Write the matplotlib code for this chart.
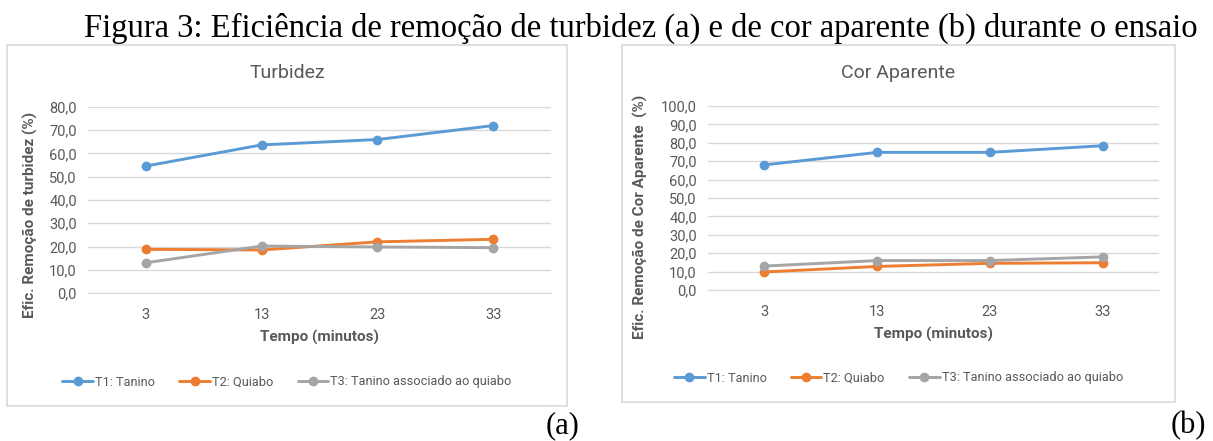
import matplotlib
matplotlib.use("Agg")
import matplotlib.pyplot as plt
from matplotlib.patches import Rectangle

W, H = 1213, 441

tempos = ["3", "13", "23", "33"]
series_names = ["T1: Tanino", "T2: Quiabo", "T3: Tanino associado ao quiabo"]

turb_t1 = [54.6, 63.7, 66.0, 72.0]
turb_t2 = [18.8, 18.5, 22.0, 23.1]
turb_t3 = [13.0, 20.2, 19.8, 19.5]

cor_t1 = [68.0, 74.8, 74.8, 78.4]
cor_t2 = [9.8, 12.8, 14.5, 14.8]
cor_t3 = [13.0, 16.0, 16.0, 18.0]

colors = ["#5B9BD5", "#ED7D31", "#A5A5A5"]
TXT = "#595959"
GRID = "#D9D9D9"
FONT = ["Liberation Sans Narrow", "Roboto", "DejaVu Sans"]

plt.rcParams["font.family"] = FONT

fig = plt.figure(figsize=(W / 100, H / 100), dpi=100)


def px_box(x0, y0, x1, y1):
    # pixel box (top-left origin) -> figure fraction [l, b, w, h]
    return [x0 / W, 1 - y1 / H, (x1 - x0) / W, (y1 - y0) / H]


def panel(frame, plot, ymax, data, title, ylabel, ylab_pos,
          title_y, xlab_y, leg_y):
    fx0, fy0, fx1, fy1 = frame
    fig.patches.append(Rectangle((fx0 / W, 1 - fy1 / H), (fx1 - fx0) / W,
                                 (fy1 - fy0) / H, transform=fig.transFigure,
                                 facecolor="none", edgecolor=GRID, lw=1.2,
                                 zorder=-5))
    ax = fig.add_axes(px_box(*plot))
    ax.set_facecolor("none")
    ax.set_zorder(2)
    x = list(range(len(tempos)))
    handles = []
    for vals, c, name in zip(data, colors, series_names):
        h, = ax.plot(x, vals, color=c, lw=2.1, marker="o", ms=6,
                     label=name, solid_capstyle="round")
        handles.append(h)
    ax.set_xlim(-0.5, len(tempos) - 0.5)
    ax.set_ylim(0, ymax)
    ticks = list(range(0, ymax + 1, 10))
    ax.set_yticks(ticks)
    ax.set_yticklabels([f"{t:.1f}".replace(".", ",") for t in ticks])
    ax.set_xticks(x)
    ax.set_xticklabels(tempos)
    ax.tick_params(length=0, colors=TXT, labelsize=10.5)
    ax.tick_params(axis="x", pad=11)
    ax.tick_params(axis="y", pad=8)
    ax.grid(axis="y", color=GRID, lw=1)
    ax.set_axisbelow(True)
    for s in ["top", "right", "left"]:
        ax.spines[s].set_visible(False)
    ax.spines["bottom"].set_color(GRID)
    ax.set_ylabel(ylabel, fontsize=11, fontweight="bold", color=TXT)
    ax.yaxis.set_label_coords(*ylab_pos)

    cx = (fx0 + fx1) / 2
    fig.text(cx / W, 1 - title_y / H, title,
             ha="center", va="center", fontsize=14, color=TXT)
    fig.text((plot[0] + plot[2]) / 2 / W, 1 - xlab_y / H, "Tempo (minutos)",
             ha="center", va="center", fontsize=11, fontweight="bold",
             color=TXT)
    leg = fig.legend(handles=handles, loc="center",
                     bbox_to_anchor=(cx / W, 1 - leg_y / H), ncol=3,
                     frameon=False, fontsize=9.2, handlelength=2.4,
                     handletextpad=0.15, columnspacing=1.9)
    for t in leg.get_texts():
        t.set_color(TXT)
    return ax


panel((7, 45, 567, 406), (88, 107, 551, 293), 80,
      [turb_t1, turb_t2, turb_t3], "Turbidez",
      "Efic. Remoção de turbidez (%)", (-0.108, 0.42), 73, 337, 382)
panel((622, 45, 1175, 402), (708, 106, 1159, 290), 100,
      [cor_t1, cor_t2, cor_t3], "Cor Aparente",
      "Efic. Remoção de Cor Aparente  (%)", (-0.133, 0.40), 73, 334, 378)

serif = ["Liberation Serif", "DejaVu Serif"]
fig.text(641 / W, 1 - 37 / H,
         "Figura 3: Eficiência de remoção de turbidez (a) e de cor aparente (b) durante o ensaio",
         ha="center", va="baseline", fontsize=23.5, family=serif, color="black")
fig.text(563 / W, 1 - 426 / H, "(a)", ha="center", va="center",
         fontsize=22, family=serif)
fig.text(1188 / W, 1 - 426 / H, "(b)", ha="center", va="center",
         fontsize=22, family=serif)

fig.savefig("out.png", dpi=100)
